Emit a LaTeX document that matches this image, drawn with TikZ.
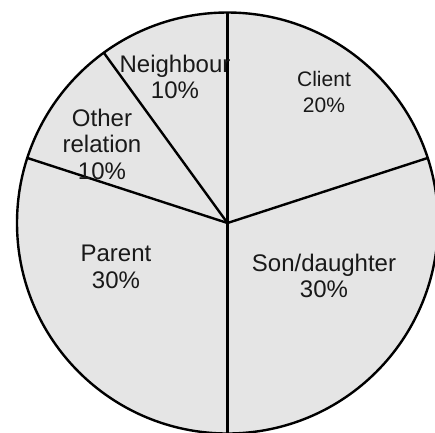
\documentclass[tikz,border=0pt]{standalone}
\usepackage{fontspec}
\setmainfont{Liberation Sans}
\usetikzlibrary{calc}
\begin{document}
\begin{tikzpicture}[x=1pt,y=1pt,
  lbl/.style={align=center,inner sep=0pt,text=black!90,font=\fontsize{24}{26.5}\selectfont},
  lblsmall/.style={align=center,inner sep=0pt,text=black!90,font=\fontsize{21}{26}\selectfont},
  edge/.style={draw=black,line width=2.4pt}]
\useasboundingbox (0,0) rectangle (435,-432);
\clip (0,0) rectangle (435,-432);
\coordinate (c) at (227.5,-223);
\fill[gray!20] (c) circle (210.5);
\foreach \a/\n in {90/top,18/r,270/bot,162/l,126/ul}{
  \coordinate (\n) at ($(c)+(\a:210.5)$);
}
\draw[edge] (c) -- (top);
\draw[edge] (c) -- (r);
\draw[edge] (c) -- (bot);
\draw[edge] (c) -- (l);
\draw[edge] (c) -- (ul);
\draw[edge] (c) circle (210.5);
\node[lbl] (nb) at (175,-77) {Neighbour\\10\%};
\node[lblsmall] (cl) at (324,-92) {Client\\20\%};
\node[lbl] (ot) at (102,-144) {Other\\relation\\10\%};
\node[lbl] (pa) at (116,-267) {Parent\\30\%};
\node[lbl] (so) at (324,-276) {Son/daughter\\30\%};
\end{tikzpicture}
\end{document}
